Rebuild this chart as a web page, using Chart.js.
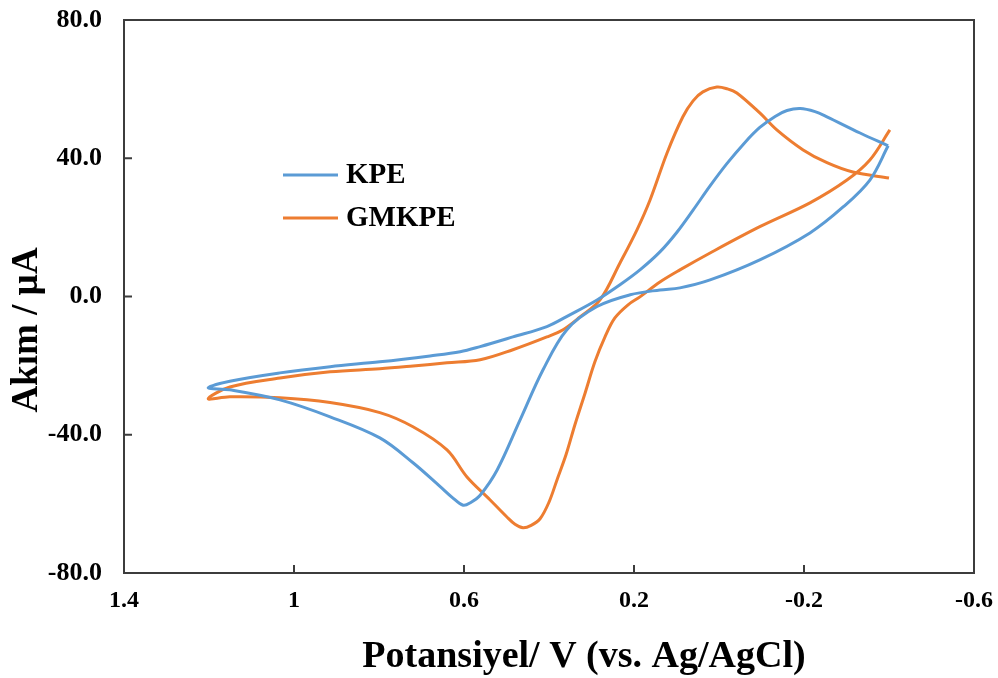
<!DOCTYPE html>
<html>
<head>
<meta charset="utf-8">
<title>CV - KPE / GMKPE</title>
<script src="https://cdn.jsdelivr.net/npm/chart.js@4.4.0/dist/chart.umd.min.js"></script>
<style>
    body { margin: 0; background: #ffffff; }
    canvas { display: block; }
</style>
</head>
<body>
<canvas id="chart" width="998" height="678"></canvas>
<script>
// potential (V) and current (uA), traced along each voltammogram loop
const kpeV = [-0.398, -0.355, -0.292, -0.214, -0.096, 0.021, 0.092, 0.139, 0.209, 0.287, 0.358, 0.414,
    0.468, 0.522, 0.562, 0.584, 0.602, 0.628, 0.656, 0.720, 0.798, 0.915, 1.033, 1.151, 1.202,
    1.151, 1.033, 0.915, 0.798, 0.680, 0.609, 0.562, 0.485, 0.405, 0.351, 0.287, 0.233,
    0.186, 0.139, 0.099, 0.061, 0.021, -0.019, -0.059, -0.096, -0.132, -0.160, -0.191,
    -0.226, -0.254, -0.332, -0.398];
const kpeI = [43.6, 33.7, 25.9, 18.4, 10.6, 4.8, 2.5, 1.9, 0.5, -2.9, -9.6, -21.2,
    -35.7, -50.2, -57.5, -59.6, -60.4, -58.1, -55.0, -48.1, -40.9, -34.8, -29.9, -27.0, -26.4,
    -24.5, -22.1, -20.3, -18.9, -17.2, -16.0, -14.5, -11.7, -8.7, -5.3, -1.0, 3.4,
    7.7, 12.9, 18.6, 25.0, 32.0, 38.5, 44.3, 48.9, 52.1, 53.8, 54.4,
    53.5, 52.0, 47.3, 43.6];

const gmkpeV = [-0.400, -0.315, -0.254, -0.198, -0.136, -0.096, -0.042, -0.019, 0.005, 0.038, 0.061, 0.085,
    0.122, 0.162, 0.193, 0.233, 0.280, 0.327, 0.367, 0.405, 0.485, 0.562, 0.640, 0.720, 0.798,
    0.915, 1.033, 1.151, 1.202,
    1.151, 1.033, 0.915, 0.798, 0.720, 0.640, 0.593, 0.539, 0.499, 0.480, 0.461, 0.442, 0.421, 0.400,
    0.381, 0.360, 0.339, 0.315, 0.292, 0.268, 0.245, 0.214, 0.186, 0.139, 0.092, 0.021, -0.096,
    -0.214, -0.301, -0.355, -0.402];
const gmkpeI = [34.3, 36.0, 38.7, 42.4, 48.2, 53.1, 58.9, 60.1, 60.6, 59.2, 56.6, 52.0,
    41.6, 28.0, 19.3, 9.7, -1.0, -5.9, -9.6, -11.7, -15.4, -18.3, -19.2, -20.1, -20.9,
    -21.8, -23.6, -26.2, -29.6,
    -29.0, -29.3, -30.7, -33.6, -37.7, -44.4, -52.2, -58.8, -63.8, -65.9, -66.9, -66.2, -64.3, -59.5,
    -53.0, -45.8, -37.1, -27.9, -18.9, -11.6, -6.2, -2.4, -0.1, 4.2, 7.7, 12.6, 20.2,
    27.1, 33.7, 39.5, 48.2];

const seriesNames = ["KPE", "GMKPE"];
const seriesColors = ["#5b9bd5", "#ed7d31"];
const xTicks = [1.4, 1, 0.6, 0.2, -0.2, -0.6];
const yTicks = [80, 40, 0, -40, -80];
const xTitle = "Potansiyel/ V (vs. Ag/AgCl)";
const yTitle = "Akım / µA";

const serif = "'Liberation Serif', 'Times New Roman', serif";
Chart.defaults.font.family = serif;
Chart.defaults.color = "#000000";

function toPoints(xs, ys) {
    let pts = [];
    for (let i = 0; i < xs.length; i++) {
        pts.push({x: xs[i], y: ys[i]});
    }
    return pts;
}

// tick labels may hang over the edges, the layout padding leaves room for them
function noLabelPadding(scale) {
    scale.paddingTop = 0;
    scale.paddingBottom = 0;
    scale.paddingLeft = 0;
    scale.paddingRight = 0;
}

// box around the plot area with small inward tick marks
const frame = {
    id: "frame",
    beforeDatasetsDraw(chart) {
        const ctx = chart.ctx;
        const a = chart.chartArea;
        const xs = chart.scales.x, ys = chart.scales.y;
        ctx.save();
        ctx.strokeStyle = "#3c3c3c";
        ctx.lineWidth = 2;
        ctx.strokeRect(a.left, a.top, a.right - a.left, a.bottom - a.top);
        ctx.beginPath();
        xTicks.forEach(v => {
            const px = xs.getPixelForValue(v);
            ctx.moveTo(px, a.bottom);
            ctx.lineTo(px, a.bottom - 8);
        });
        yTicks.forEach(v => {
            const py = ys.getPixelForValue(v);
            ctx.moveTo(a.left, py);
            ctx.lineTo(a.left + 8, py);
        });
        ctx.stroke();
        ctx.restore();
    },
    afterDraw(chart) {
        const ctx = chart.ctx;
        ctx.save();
        ctx.fillStyle = "#000000";
        // axis titles
        ctx.font = "bold 38px " + serif;
        ctx.textAlign = "center";
        ctx.textBaseline = "alphabetic";
        ctx.fillText(xTitle, 584, 667);
        ctx.font = "bold 37px " + serif;
        ctx.translate(37, 330);
        ctx.rotate(-Math.PI / 2);
        ctx.fillText(yTitle, 0, 0);
        ctx.restore();

        // legend
        ctx.save();
        ctx.font = "bold 29px " + serif;
        ctx.textAlign = "left";
        ctx.textBaseline = "middle";
        chart.data.datasets.forEach((ds, i) => {
            const y = 175 + i * 43;
            ctx.strokeStyle = ds.borderColor;
            ctx.lineWidth = 3;
            ctx.beginPath();
            ctx.moveTo(283, y);
            ctx.lineTo(338, y);
            ctx.stroke();
            ctx.fillStyle = "#000000";
            ctx.fillText(ds.label, 346, y + 1);
        });
        ctx.restore();
    }
};

new Chart(document.getElementById("chart"), {
    type: "scatter",
    data: {
        datasets: [{
            label: seriesNames[0],
            data: toPoints(kpeV, kpeI),
            borderColor: seriesColors[0],
            backgroundColor: seriesColors[0]
        }, {
            label: seriesNames[1],
            data: toPoints(gmkpeV, gmkpeI),
            borderColor: seriesColors[1],
            backgroundColor: seriesColors[1]
        }]
    },
    options: {
        responsive: false,
        animation: false,
        layout: {
            padding: {top: 20, right: 24, left: 0, bottom: 0}
        },
        elements: {
            point: {radius: 0},
            line: {tension: 0.35, borderWidth: 3}
        },
        datasets: {
            scatter: {showLine: true}
        },
        plugins: {
            legend: {display: false},
            tooltip: {enabled: false}
        },
        scales: {
            x: {
                type: "linear",
                reverse: true,
                min: -0.6,
                max: 1.4,
                afterBuildTicks: scale => { scale.ticks = xTicks.map(v => ({value: v})); },
                afterFit: scale => { scale.height = 105; noLabelPadding(scale); },
                grid: {display: false, drawTicks: false},
                border: {display: false},
                ticks: {
                    font: {size: 24, weight: "bold"},
                    padding: 13,
                    maxRotation: 0,
                    callback: v => String(Math.round(v * 10) / 10)
                }
            },
            y: {
                type: "linear",
                min: -80,
                max: 80,
                afterBuildTicks: scale => { scale.ticks = yTicks.map(v => ({value: v})); },
                afterFit: scale => { scale.width = 124; noLabelPadding(scale); },
                grid: {display: false, drawTicks: false},
                border: {display: false},
                ticks: {
                    font: {size: 26, weight: "bold"},
                    padding: 22,
                    callback: v => v.toFixed(1)
                }
            }
        }
    },
    plugins: [frame]
});
</script>
</body>
</html>
